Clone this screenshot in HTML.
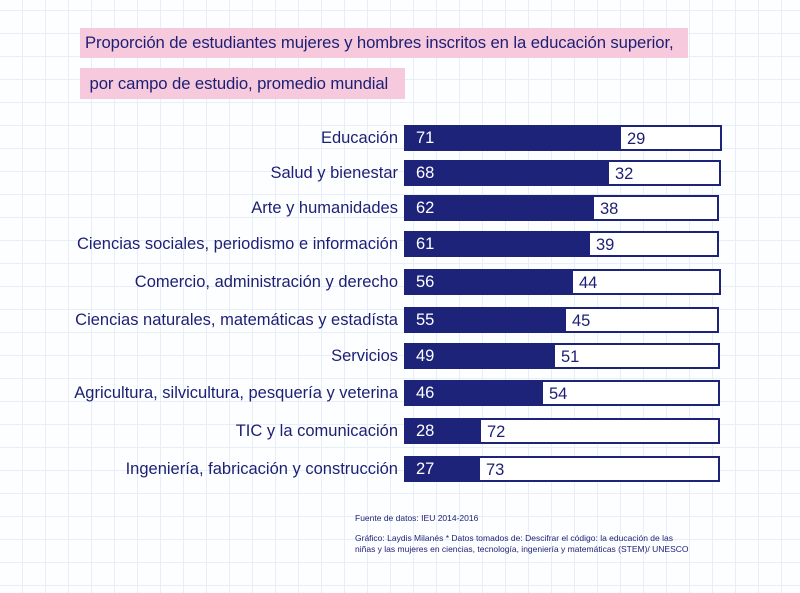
<!DOCTYPE html>
<html><head><meta charset="utf-8"><style>
body{margin:0;width:800px;height:593px;overflow:hidden;font-family:"Liberation Sans",sans-serif;
background-color:#fdfeff;
background-image:linear-gradient(to right,#e8eef5 1px,transparent 1px),linear-gradient(to bottom,#e8eef5 1px,transparent 1px);
background-size:23px 23px;background-position:22px 10px;position:relative;color:#1c1f74}
.t{position:absolute;left:80px;background:#f6c9dc;font-size:16.7px;line-height:30px;padding-left:5px;white-space:nowrap;letter-spacing:-0.1px}
.l{position:absolute;right:402px;font-size:16.5px;white-space:nowrap;line-height:26px}
.b{position:absolute;left:404px;height:22px;border:2px solid #1c2378;background:#fff}
.d{position:absolute;left:0;top:0;bottom:0;background:#1c2378;color:#fff;font-size:16.5px;line-height:22px;padding-left:10px;box-sizing:border-box}
.w{position:absolute;top:0;font-size:16.5px;line-height:24px;color:#1c1f74}
.s{position:absolute;left:355px;font-size:8.5px;line-height:11px}
</style></head><body>
<div class="t" style="top:28px;width:603px">Proporción de estudiantes mujeres y hombres inscritos en la educación superior,</div>
<div class="t" style="top:68px;width:320px;height:31px;line-height:31px">&nbsp;por campo de estudio, promedio mundial</div>

<div class="l" style="top:125px">Educación</div>
<div class="b" style="top:125px;width:314px"><div class="d" style="width:215px">71</div><div class="w" style="left:221px">29</div></div>
<div class="l" style="top:160px">Salud y bienestar</div>
<div class="b" style="top:160px;width:313px"><div class="d" style="width:203px">68</div><div class="w" style="left:209px">32</div></div>
<div class="l" style="top:195px">Arte y humanidades</div>
<div class="b" style="top:195px;width:311px"><div class="d" style="width:188px">62</div><div class="w" style="left:194px">38</div></div>
<div class="l" style="top:231px">Ciencias sociales, periodismo e información</div>
<div class="b" style="top:231px;width:311px"><div class="d" style="width:184px">61</div><div class="w" style="left:190px">39</div></div>
<div class="l" style="top:269px">Comercio, administración y derecho</div>
<div class="b" style="top:269px;width:313px"><div class="d" style="width:167px">56</div><div class="w" style="left:173px">44</div></div>
<div class="l" style="top:307px">Ciencias naturales, matemáticas y estadísta</div>
<div class="b" style="top:307px;width:311px"><div class="d" style="width:160px">55</div><div class="w" style="left:166px">45</div></div>
<div class="l" style="top:343px">Servicios</div>
<div class="b" style="top:343px;width:312px"><div class="d" style="width:149px">49</div><div class="w" style="left:155px">51</div></div>
<div class="l" style="top:380px">Agricultura, silvicultura, pesquería y veterina</div>
<div class="b" style="top:380px;width:312px"><div class="d" style="width:137px">46</div><div class="w" style="left:143px">54</div></div>
<div class="l" style="top:418px">TIC y la comunicación</div>
<div class="b" style="top:418px;width:312px"><div class="d" style="width:75px">28</div><div class="w" style="left:81px">72</div></div>
<div class="l" style="top:456px">Ingeniería, fabricación y construcción</div>
<div class="b" style="top:456px;width:312px"><div class="d" style="width:74px">27</div><div class="w" style="left:80px">73</div></div>

<div class="s" style="top:513px">Fuente de datos: IEU 2014-2016</div>
<div class="s" style="top:533px">Gráfico: Laydis Milanés * Datos tomados de: Descifrar el código: la educación de las<br>niñas y las mujeres en ciencias, tecnología, ingeniería y matemáticas (STEM)/ UNESCO</div>
</body></html>
